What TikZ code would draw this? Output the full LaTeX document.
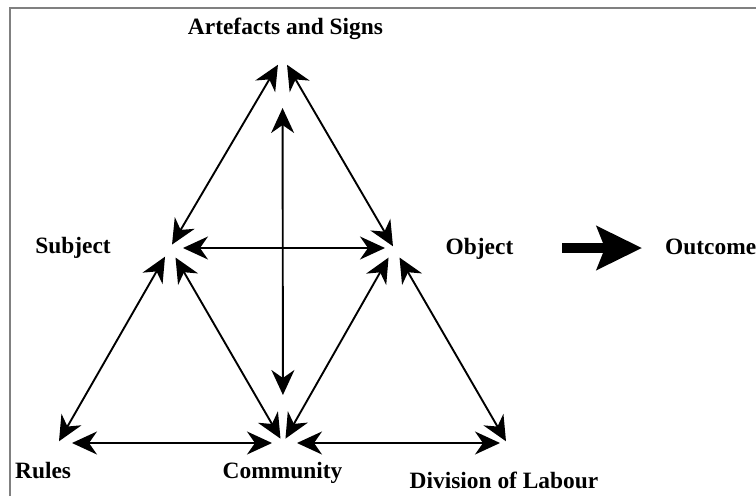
\documentclass[tikz,border=0pt]{standalone}
\usepackage{fontspec}
\setmainfont{Liberation Serif}
\usetikzlibrary{arrows.meta}

\tikzset{
  tip/.tip={Stealth[length=25pt,width=23pt,inset=8pt]},
  link/.style={line width=1.9pt, tip-tip},
  bigarrow/.style={line width=10pt, -{Stealth[length=45pt,width=43pt,inset=8pt]}},
  label/.style={font=\fontsize{23.4}{28}\selectfont\bfseries, inner sep=0pt},
  frameline/.style={draw=gray, line width=1.5pt}
}

\begin{document}
\begin{tikzpicture}[x=1pt,y=-1pt]
  \useasboundingbox (0,0) rectangle (756,496);

  % page frame (top and left edges only)
  \draw[frameline] (10,496) -- (10,8) -- (756,8);

  % vertices of the activity system
  \coordinate (A) at (282.5,57);
  \coordinate (S) at (170,248);
  \coordinate (O) at (394,248);
  \coordinate (R) at (58,443);
  \coordinate (C) at (283,443);
  \coordinate (D) at (507,443);

  % labels
  \node[label, anchor=base] (Art) at (285.5,34) {Artefacts and Signs};
  \node[label, anchor=base] (Subj) at (73,253) {Subject};
  \node[label, anchor=base] (Obj) at (479.5,254) {Object};
  \node[label, anchor=base west] (Out) at (665,254) {Outcome};
  \node[label, anchor=base west] (Rul) at (15,478) {Rules};
  \node[label, anchor=base] (Com) at (282.5,478) {Community};
  \node[label, anchor=base] (Div) at (504,488) {Division of Labour};

  % upper triangle
  \draw[link, shorten <=9pt, shorten >=4pt] (A) -- (S);
  \draw[link, shorten <=9pt, shorten >=2pt] (A) -- (O);
  \draw[link, shorten <=13pt, shorten >=9pt] (S) -- (O);
  \draw[link, shorten <=51pt, shorten >=48pt] (A) -- (C);

  % lower triangles
  \draw[link, shorten <=10pt, shorten >=2pt] (S) -- (R);
  \draw[link, shorten <=11pt, shorten >=5pt] (S) -- (C);
  \draw[link, shorten <=11pt, shorten >=5pt] (O) -- (C);
  \draw[link, shorten <=11pt, shorten >=2pt] (O) -- (D);
  \draw[link, shorten <=14pt, shorten >=11pt] (R) -- (C);
  \draw[link, shorten <=14pt, shorten >=7pt] (C) -- (D);

  % object to outcome
  \coordinate (o1) at (562,248);
  \coordinate (o2) at (642,248);
  \draw[bigarrow] (o1) -- (o2);
\end{tikzpicture}
\end{document}
